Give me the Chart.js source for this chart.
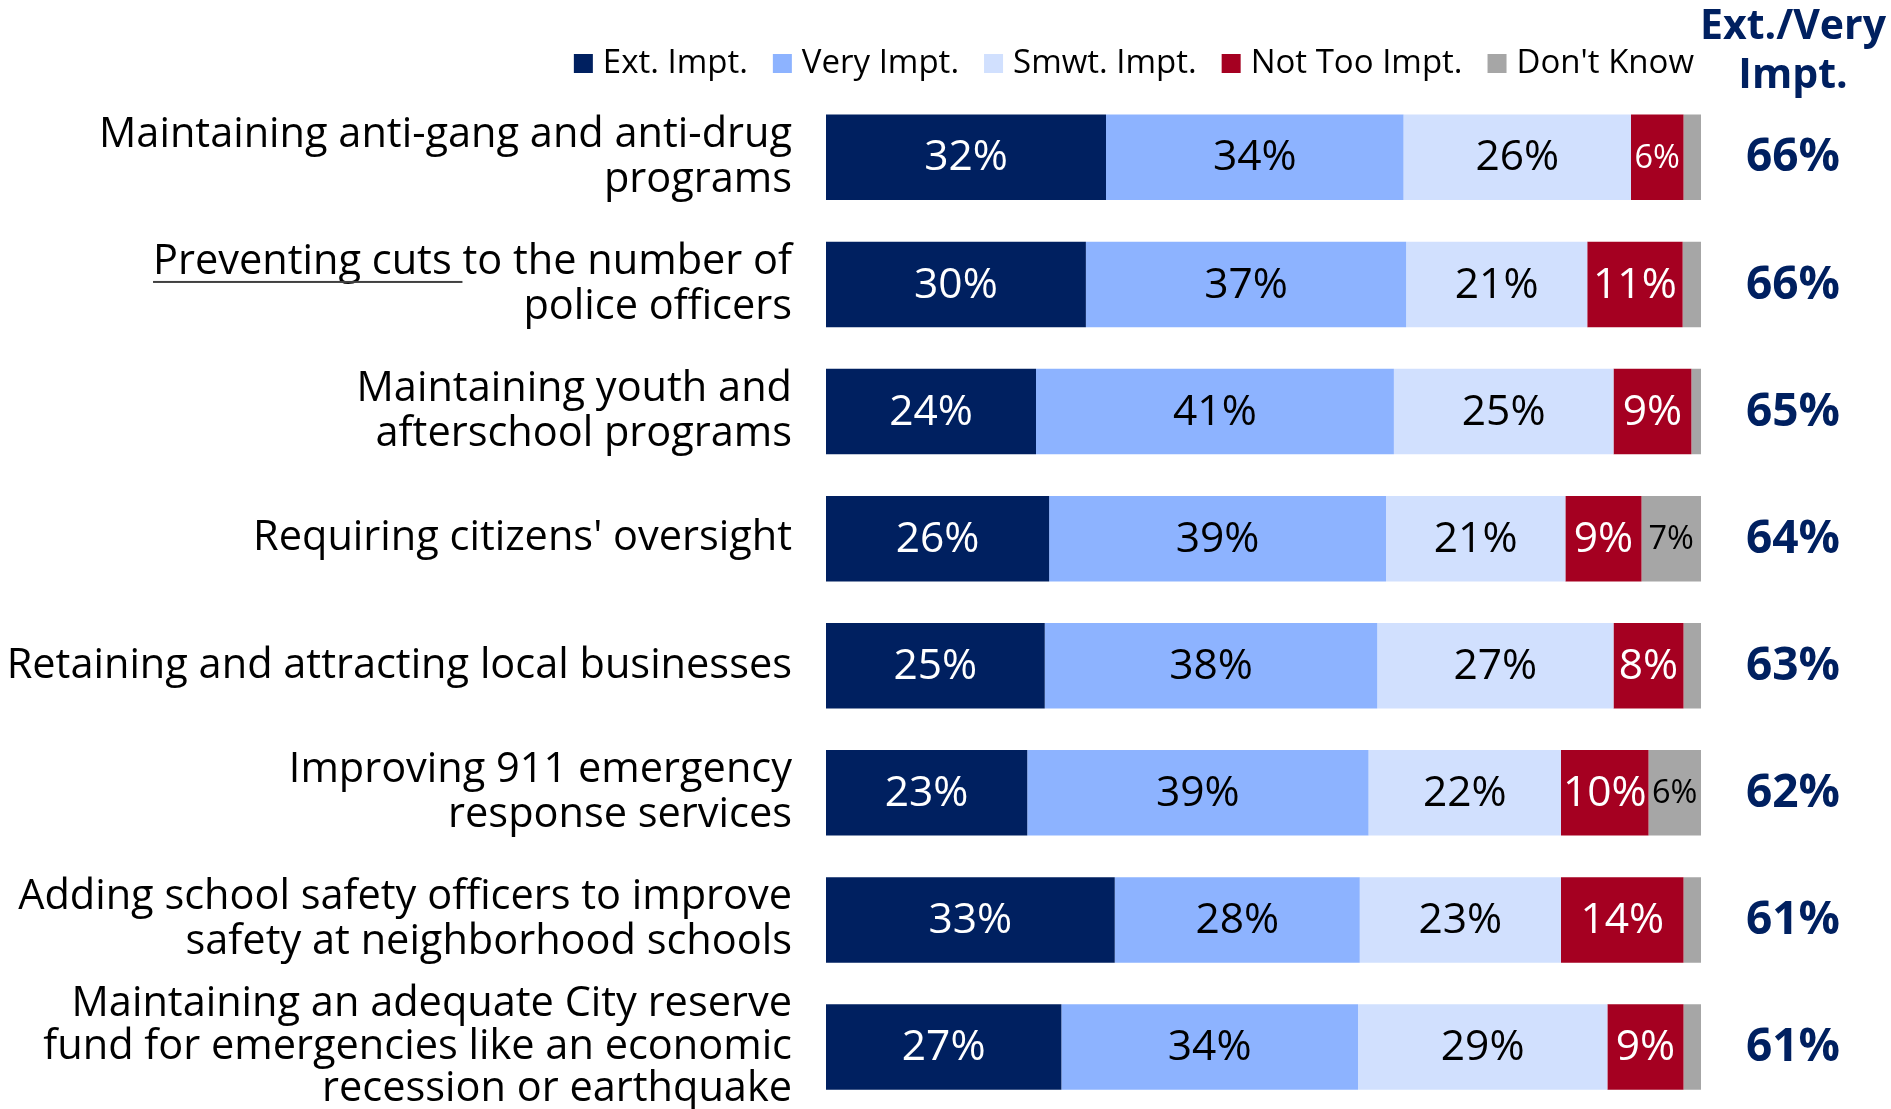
<!DOCTYPE html>
<html>
<head>
<meta charset="utf-8">
<script src="https://cdn.jsdelivr.net/npm/chart.js@4.4.0/dist/chart.umd.min.js"></script>
<style>
html,body{margin:0;padding:0;background:#fff;overflow:hidden;}
#wrap{position:relative;width:1891px;height:1112px;}
</style>
</head>
<body>
<div id="wrap"><canvas id="c" width="1891" height="1112"></canvas></div>
<script>
// ---- data ----
const categories = [
  ["Maintaining anti-gang and anti-drug", "programs"],
  ["Preventing cuts to the number of", "police officers"],
  ["Maintaining youth and", "afterschool programs"],
  "Requiring citizens' oversight",
  "Retaining and attracting local businesses",
  ["Improving 911 emergency", "response services"],
  ["Adding school safety officers to improve", "safety at neighborhood schools"],
  ["Maintaining an adequate City reserve", "fund for emergencies like an economic", "recession or earthquake"]
];
const seriesNames = ["Ext. Impt.", "Very Impt.", "Smwt. Impt.", "Not Too Impt.", "Don't Know"];
const extImpt    = [32, 29.7, 24.0, 25.5, 25, 23, 33, 26.9];
const veryImpt   = [34, 36.6, 40.9, 38.5, 38, 39, 28, 33.9];
const smwtImpt   = [26, 20.7, 25.1, 20.5, 27, 22, 23, 28.5];
const notTooImpt = [6, 10.9, 8.9, 8.7, 8, 10, 14, 8.7];
const dontKnow   = [2, 2.1, 1.1, 6.8, 2, 6, 2, 2.0];
const extVeryTotals = [66, 66, 65, 64, 63, 62, 61, 61];
const totalsHeader = ["Ext./Very", "Impt."];

// ---- styles ----
const FONT = '"Open Sans", "Noto Sans", sans-serif';
const CAT_SIZE = 41.5;
const NAVY = '#002060';
const colors = ['#002060', '#8DB3FF', '#D1E0FE', '#A50021', '#A6A6A6'];
const labelColors = ['#FFFFFF', '#000000', '#000000', '#FFFFFF', '#000000'];
const seriesData = [extImpt, veryImpt, smwtImpt, notTooImpt, dontKnow];

const datasets = seriesNames.map((name, i) => ({
  label: name,
  data: seriesData[i],
  backgroundColor: colors[i],
  borderWidth: 0,
  barPercentage: 0.673,
  categoryPercentage: 1.0,
  labelColor: labelColors[i]
}));

const barLabels = {
  id: 'barLabels',
  afterDatasetsDraw(chart) {
    const ctx = chart.ctx;
    chart.data.datasets.forEach((ds, i) => {
      const meta = chart.getDatasetMeta(i);
      meta.data.forEach((el, j) => {
        const v = ds.data[j];
        if (v < 3) return;
        const small = v < 7.5;
        ctx.save();
        ctx.font = (small ? 32.5 : 42.5) + 'px ' + FONT;
        ctx.fillStyle = ds.labelColor;
        ctx.textAlign = 'center';
        ctx.textBaseline = 'middle';
        ctx.fillText(Math.round(v) + '%', (el.x + el.base) / 2, el.y + 1);
        ctx.restore();
      });
    });
  }
};

const extras = {
  id: 'extras',
  afterDraw(chart) {
    const ctx = chart.ctx;
    const ys = chart.scales.y;
    const area = chart.chartArea;
    ctx.save();
    // legend (custom, right-aligned)
    ctx.font = '33px ' + FONT;
    const box = 19, gap = 10, spacing = 25;
    const widths = chart.data.datasets.map(d => ctx.measureText(d.label).width);
    let total = widths.reduce((a, b) => a + b, 0) + chart.data.datasets.length * (box + gap) + spacing * (chart.data.datasets.length - 1);
    let x = 1694 - total;
    const ly = 63.5;
    chart.data.datasets.forEach((d, i) => {
      ctx.fillStyle = d.backgroundColor;
      ctx.fillRect(x, ly - box / 2, box, box);
      x += box + gap;
      ctx.fillStyle = '#000';
      ctx.textAlign = 'left';
      ctx.textBaseline = 'middle';
      ctx.fillText(d.label, x, ly);
      x += widths[i] + spacing;
    });
    // header
    const cx = area.right + 92;
    ctx.fillStyle = NAVY;
    ctx.font = 'bold 41px ' + FONT;
    ctx.textAlign = 'center';
    ctx.textBaseline = 'middle';
    ctx.fillText(totalsHeader[0], cx, 27.5);
    ctx.fillText(totalsHeader[1], cx, 76);
    // totals
    ctx.font = 'bold 46px ' + FONT;
    extVeryTotals.forEach((t, j) => {
      ctx.fillText(t + '%', cx, ys.getPixelForValue(j) + 1);
    });
    // underline "Preventing cuts"
    ctx.font = CAT_SIZE + 'px ' + FONT;
    const line = categories[1][0];
    const full = ctx.measureText(line).width;
    const part = ctx.measureText('Preventing cuts ').width;
    const right = area.left - 34;
    const lineCenter = ys.getPixelForTick(1) - 22.5;
    ctx.fillStyle = '#404040';
    ctx.fillRect(right - full, lineCenter + 19, part, 2);
    ctx.restore();
  }
};

new Chart(document.getElementById('c'), {
  type: 'bar',
  data: { labels: categories, datasets },
  options: {
    indexAxis: 'y',
    responsive: false,
    animation: false,
    layout: { padding: { top: 93.8, right: 190, bottom: 1.4, left: 0 } },
    scales: {
      x: { stacked: true, min: 0, max: 100, display: false },
      y: {
        stacked: true,
        grid: { display: false, drawTicks: false },
        border: { display: false },
        ticks: {
          color: '#000',
          padding: 34,
          autoSkip: false,
          font: (c) => ({ family: FONT, size: CAT_SIZE, lineHeight: c.index === 7 ? '42.5px' : '45px' })
        },
        afterFit: (s) => { s.width = 826; s.paddingTop = 0; s.paddingBottom = 0; }
      }
    },
    plugins: { legend: { display: false }, tooltip: { enabled: false } }
  },
  plugins: [barLabels, extras]
});
</script>
</body>
</html>
